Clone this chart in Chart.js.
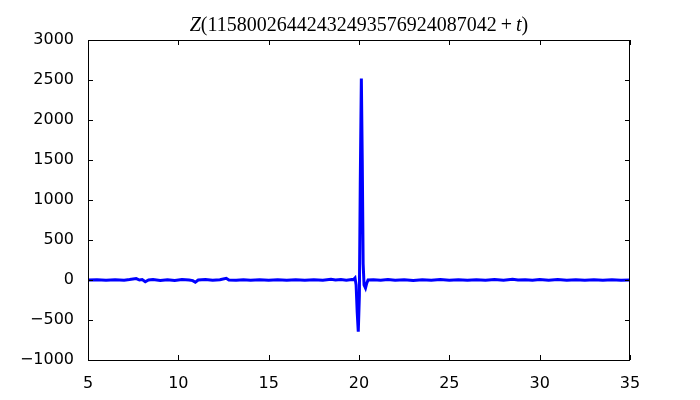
<!DOCTYPE html>
<html>
<head>
<meta charset="utf-8">
<script src="https://cdn.jsdelivr.net/npm/chart.js@4"></script>
<style>
  html, body { margin: 0; padding: 0; background: #fff; }
  #wrap { width: 700px; height: 400px; }
</style>
</head>
<body>
<div id="wrap"><canvas id="chart" width="700" height="400"></canvas></div>
<script>
// values
const tValues = [
  5.0, 5.5, 6.0, 6.5, 7.0, 7.3, 7.67, 7.85, 8.0, 8.17, 8.35, 8.6, 9.0, 9.4, 9.8,
  10.2, 10.6, 10.8, 10.94, 11.1, 11.5, 11.9, 12.3, 12.65, 12.8, 13.2, 13.6, 14.0,
  14.5, 15.0, 15.5, 16.0, 16.5, 17.0, 17.5, 18.0, 18.45, 18.7, 19.0, 19.3, 19.6,
  19.70, 19.78, 19.84, 19.90, 19.96, 20.02, 20.07, 20.13, 20.18, 20.23, 20.28,
  20.36, 20.43, 20.5, 20.8, 21.2, 21.6, 22.0, 22.5, 23.0, 23.5, 24.0, 24.5, 25.0,
  25.5, 26.0, 26.5, 27.0, 27.5, 28.0, 28.5, 28.8, 29.2, 29.6, 30.0, 30.5, 31.0,
  31.5, 32.0, 32.5, 33.0, 33.5, 34.0, 34.5, 35.0
];
const zValues = [
  0, 2, -3, 3, -4, 5, 18, 0, 5, -22, 0, 6, -5, 4, -6,
  5, 0, -8, -28, 0, 5, -4, 3, 22, 0, -4, 3, -3,
  4, -2, 3, -4, 3, -2, 4, -3, 10, 0, 5, -4, 6,
  5, 25, -60, -400, -645, -200, 1200, 2520, 1500, 200, -60,
  -100, -40, 0, 4, -3, 5, -4, 3, -5, 4, -3, 5, -2,
  3, -4, 4, -3, 5, -2, 10, 0, 4, -3, 6, -4, 5,
  -3, 4, -2, 3, -4, 2, -3, 0
];
const xTicks = [5, 10, 15, 20, 25, 30, 35];
const yTicks = [-1000, -500, 0, 500, 1000, 1500, 2000, 2500, 3000];
const titleParts = [
  ["Z", "italic"],
  ["(11580026442432493576924087042\u2009+\u2009", "normal"],
  ["t", "italic"],
  [")", "normal"]
];

const points = tValues.map((t, i) => ({x: t, y: zValues[i]}));

// matplotlib-like frame, inward ticks on all four sides, and the title
const framePlugin = {
  id: "frame",
  afterDraw(chart) {
    const ctx = chart.ctx;
    const a = chart.chartArea;
    const xs = chart.scales.x, ys = chart.scales.y;
    ctx.save();
    ctx.strokeStyle = "#000";
    ctx.lineWidth = 1;
    ctx.strokeRect(a.left + 0.5, a.top + 0.5, a.right - a.left - 1, a.bottom - a.top);
    const len = 5;
    ctx.beginPath();
    xTicks.forEach(v => {
      const px = Math.round(xs.getPixelForValue(v)) + 0.5;
      ctx.moveTo(px, a.bottom); ctx.lineTo(px, a.bottom - len);
      ctx.moveTo(px, a.top); ctx.lineTo(px, a.top + len);
    });
    yTicks.forEach(v => {
      const py = Math.round(ys.getPixelForValue(v)) + 0.5;
      ctx.moveTo(a.left, py); ctx.lineTo(a.left + len, py);
      ctx.moveTo(a.right, py); ctx.lineTo(a.right - len, py);
    });
    ctx.stroke();

    // title
    ctx.fillStyle = "#000";
    ctx.textBaseline = "alphabetic";
    let total = 0;
    const widths = titleParts.map(p => {
      ctx.font = p[1] + " 20px 'Liberation Serif'";
      const w = ctx.measureText(p[0]).width;
      total += w;
      return w;
    });
    let x = (a.left + a.right) / 2 - total / 2;
    titleParts.forEach((p, i) => {
      ctx.font = p[1] + " 20px 'Liberation Serif'";
      ctx.fillText(p[0], x, 31);
      x += widths[i];
    });
    ctx.restore();
  }
};

new Chart("chart", {
  type: "line",
  data: {
    datasets: [{
      data: points,
      borderColor: "#0000ff",
      borderWidth: 3,
      pointRadius: 0,
      tension: 0,
      fill: false
    }]
  },
  options: {
    responsive: false,
    animation: false,
    layout: {padding: {top: 40, right: 70, left: 0, bottom: 0}},
    plugins: {legend: {display: false}, title: {display: false}, tooltip: {enabled: false}},
    scales: {
      x: {
        type: "linear",
        min: 5, max: 35,
        afterFit: s => { s.height = 40; },
        afterBuildTicks: s => { s.ticks = xTicks.map(v => ({value: v})); },
        grid: {display: false},
        border: {display: false},
        ticks: {color: "#000", padding: 6, maxRotation: 0, font: {family: "'DejaVu Sans'", size: 16}}
      },
      y: {
        min: -1000, max: 3000,
        afterFit: s => { s.width = 88; },
        afterBuildTicks: s => { s.ticks = yTicks.map(v => ({value: v})); },
        grid: {display: false},
        border: {display: false},
        ticks: {
          color: "#000", padding: 6,
          font: {family: "'DejaVu Sans'", size: 16},
          callback: v => v < 0 ? "\u2212" + Math.abs(v) : String(v)
        }
      }
    }
  },
  plugins: [framePlugin]
});
</script>
</body>
</html>
